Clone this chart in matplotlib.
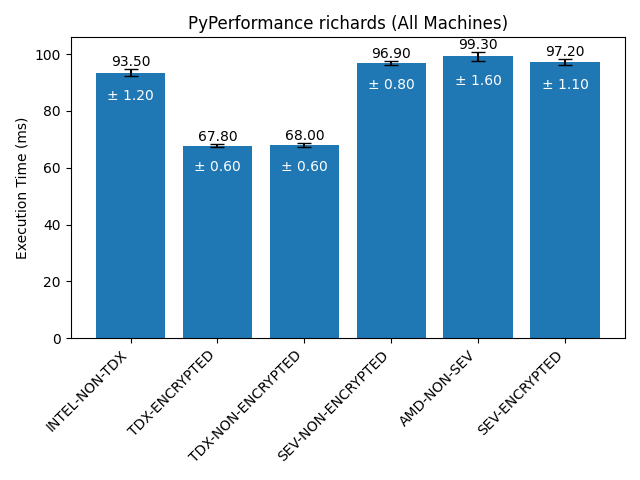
import matplotlib
matplotlib.use("Agg")
import matplotlib.pyplot as plt

machines = ["INTEL-NON-TDX", "TDX-ENCRYPTED", "TDX-NON-ENCRYPTED",
            "SEV-NON-ENCRYPTED", "AMD-NON-SEV", "SEV-ENCRYPTED"]
means = [93.50, 67.80, 68.00, 96.90, 99.30, 97.20]
stds = [1.20, 0.60, 0.60, 0.80, 1.60, 1.10]

fig, ax = plt.subplots(figsize=(6.4, 4.8), dpi=100)
x = range(len(machines))
bars = ax.bar(x, means, yerr=stds, capsize=5, color="#1f77b4")

for xi, m, s in zip(x, means, stds):
    ax.text(xi, m + s, f"{m:.2f}", ha="center", va="bottom")
    ax.text(xi, m - s - 7, f"± {s:.2f}", ha="center", va="center", color="white")

ax.set_xticks(list(x))
ax.set_xticklabels(machines, rotation=45, ha="right")
ax.set_ylabel("Execution Time (ms)")
ax.set_title("PyPerformance richards (All Machines)")
plt.tight_layout()
plt.savefig("out.png", dpi=100)
